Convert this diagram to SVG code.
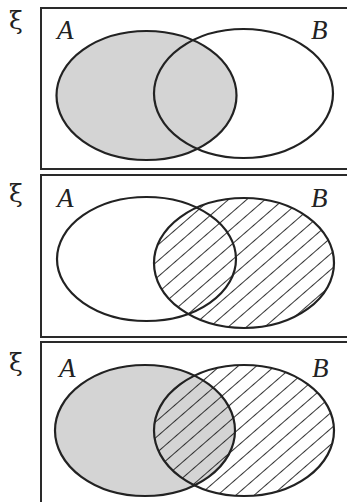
<svg xmlns="http://www.w3.org/2000/svg" width="347" height="502" viewBox="0 0 347 502">
<style>
.frame{fill:none;stroke:#2a2a2a;stroke-width:2}
.ring{fill:none;stroke:#222;stroke-width:2.2}
.grey{fill:#d4d4d4}
.lab{font-family:"Liberation Serif",serif;font-style:italic;font-size:27px;fill:#222}
.xi{font-family:"DejaVu Serif",serif;font-size:25px;fill:#222}
</style>
<defs>
<pattern id="hatch" patternUnits="userSpaceOnUse" width="12" height="12" patternTransform="rotate(49)">
<line x1="0" y1="-1" x2="0" y2="13" stroke="#1e1e1e" stroke-width="1.8"/>
</pattern>
</defs>
<rect width="347" height="502" fill="#fff"/>
<g id="panel1">
<rect class="frame" x="41" y="8" width="320" height="161"/>
<text class="xi" x="9" y="29">ξ</text>
<ellipse class="grey" cx="146.5" cy="95.5" rx="90" ry="64.5"/>
<ellipse class="ring" cx="146.5" cy="95.5" rx="90" ry="64.5"/>
<ellipse class="ring" cx="243.5" cy="93.5" rx="89.5" ry="64.5"/>
<text class="lab" x="57" y="39">A</text>
<text class="lab" x="311" y="39">B</text>
</g>
<g id="panel2">
<rect class="frame" x="41" y="175" width="320" height="162"/>
<text class="xi" x="9" y="202">ξ</text>
<ellipse fill="url(#hatch)" cx="244" cy="263" rx="90" ry="65"/>
<ellipse class="ring" cx="146.5" cy="259" rx="89.5" ry="62"/>
<ellipse class="ring" cx="244" cy="263" rx="90" ry="65"/>
<text class="lab" x="57" y="207">A</text>
<text class="lab" x="311" y="207">B</text>
</g>
<g id="panel3">
<rect class="frame" x="41" y="342" width="320" height="170"/>
<text class="xi" x="9" y="371">ξ</text>
<ellipse class="grey" cx="145" cy="430.5" rx="90" ry="65.5"/>
<ellipse fill="url(#hatch)" cx="244" cy="430.5" rx="90" ry="65.5"/>
<ellipse class="ring" cx="145" cy="430.5" rx="90" ry="65.5"/>
<ellipse class="ring" cx="244" cy="430.5" rx="90" ry="65.5"/>
<text class="lab" x="59" y="377">A</text>
<text class="lab" x="312" y="377">B</text>
</g>
<g id="connectors"/>
</svg>
